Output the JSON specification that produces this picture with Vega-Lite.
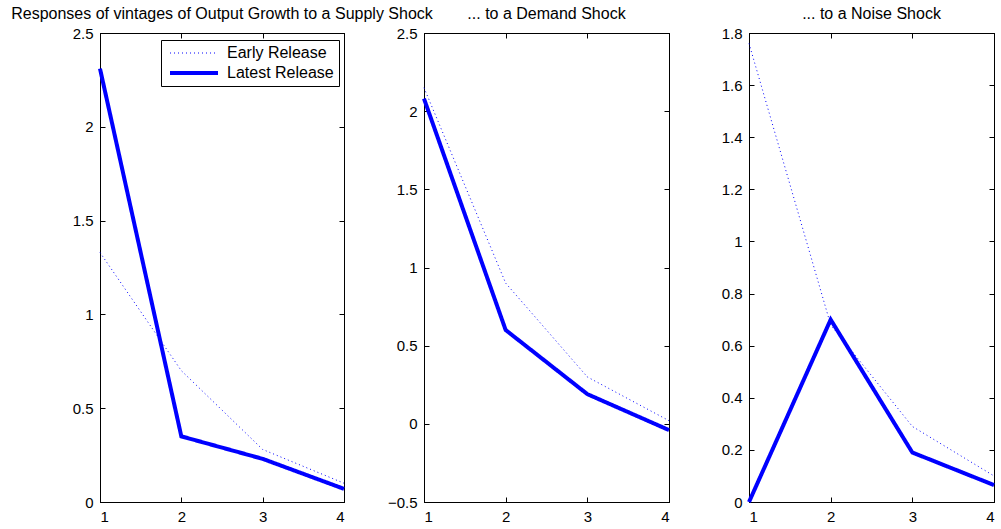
{
  "$schema": "https://vega.github.io/schema/vega-lite/v6.json",
  "padding": {"left": 10, "top": 5, "right": 4, "bottom": 4},
  "background": "white",
  "datasets": {
    "d": [
      {"panel": "supply", "series": "Early Release", "x": 1, "value": 1.33},
      {"panel": "supply", "series": "Early Release", "x": 2, "value": 0.70},
      {"panel": "supply", "series": "Early Release", "x": 3, "value": 0.28},
      {"panel": "supply", "series": "Early Release", "x": 4, "value": 0.10},
      {"panel": "supply", "series": "Latest Release", "x": 1, "value": 2.31},
      {"panel": "supply", "series": "Latest Release", "x": 2, "value": 0.35},
      {"panel": "supply", "series": "Latest Release", "x": 3, "value": 0.23},
      {"panel": "supply", "series": "Latest Release", "x": 4, "value": 0.07},
      {"panel": "demand", "series": "Early Release", "x": 1, "value": 2.15},
      {"panel": "demand", "series": "Early Release", "x": 2, "value": 0.90},
      {"panel": "demand", "series": "Early Release", "x": 3, "value": 0.30},
      {"panel": "demand", "series": "Early Release", "x": 4, "value": 0.02},
      {"panel": "demand", "series": "Latest Release", "x": 1, "value": 2.08},
      {"panel": "demand", "series": "Latest Release", "x": 2, "value": 0.60},
      {"panel": "demand", "series": "Latest Release", "x": 3, "value": 0.19},
      {"panel": "demand", "series": "Latest Release", "x": 4, "value": -0.04},
      {"panel": "noise", "series": "Early Release", "x": 1, "value": 1.76},
      {"panel": "noise", "series": "Early Release", "x": 2, "value": 0.68},
      {"panel": "noise", "series": "Early Release", "x": 3, "value": 0.29},
      {"panel": "noise", "series": "Early Release", "x": 4, "value": 0.10},
      {"panel": "noise", "series": "Latest Release", "x": 1, "value": 0.0},
      {"panel": "noise", "series": "Latest Release", "x": 2, "value": 0.70},
      {"panel": "noise", "series": "Latest Release", "x": 3, "value": 0.19},
      {"panel": "noise", "series": "Latest Release", "x": 4, "value": 0.065}
    ]
  },
  "config": {
    "font": "Liberation Sans",
    "view": {"stroke": "black", "strokeWidth": 1},
    "axis": {
      "grid": false,
      "domainColor": "black",
      "tickColor": "black",
      "labelColor": "black",
      "labelFont": "Liberation Sans",
      "labelFontSize": 15,
      "tickSize": -5,
      "labelPadding": 12,
      "format": "~g",
      "title": null
    },
    "title": {"font": "Liberation Sans", "fontSize": 16, "fontWeight": "normal", "color": "black", "anchor": "middle", "offset": 4},
    "legend": {
      "orient": "none",
      "legendX": 61,
      "legendY": 7,
      "title": null,
      "strokeColor": "black",
      "fillColor": "white",
      "padding": 5,
      "symbolType": "M-4,0L4,0",
      "symbolSize": 144,
      "symbolOffset": 20,
      "symbolStrokeColor": "#0000ff",
      "labelFont": "Liberation Sans",
      "labelFontSize": 16,
      "labelColor": "black",
      "labelOffset": 25,
      "rowPadding": 4,
      "cornerRadius": 0
    }
  },
  "bounds": "flush",
  "spacing": 80,
  "resolve": {"legend": {"strokeDash": "independent", "strokeWidth": "independent"}},
  "hconcat": [
    {
      "width": 244, "height": 469,
      "title": {"text": "Responses of vintages of Output Growth to a Supply Shock"},
      "data": {"name": "d"},
      "transform": [{"filter": "datum.panel === 'supply'"}],
      "resolve": {"axis": {"x": "independent", "y": "independent"}},
      "layer": [
        {
          "mark": {"type": "line", "color": "#0000ff"},
          "encoding": {
            "x": {"field": "x", "type": "quantitative", "scale": {"domain": [1, 4], "nice": false}, "axis": {"values": [1, 2, 3, 4]}},
            "y": {"field": "value", "type": "quantitative", "scale": {"domain": [0, 2.5], "nice": false, "zero": false}, "axis": {"values": [0, 0.5, 1, 1.5, 2, 2.5]}},
            "strokeDash": {"field": "series", "type": "nominal", "scale": {"domain": ["Early Release", "Latest Release"], "range": [[1, 3], [1, 0]]}},
            "strokeWidth": {"field": "series", "type": "nominal", "scale": {"type": "ordinal", "domain": ["Early Release", "Latest Release"], "range": [1, 4]}}
          }
        },
        {
          "mark": {"type": "line", "opacity": 0},
          "encoding": {
            "x": {"field": "x", "type": "quantitative", "axis": {"orient": "top", "values": [1, 2, 3, 4], "labels": false}},
            "y": {"field": "value", "type": "quantitative", "axis": {"orient": "right", "values": [0, 0.5, 1, 1.5, 2, 2.5], "labels": false}}
          }
        }
      ]
    },
    {
      "width": 245, "height": 469,
      "title": {"text": "... to a Demand Shock"},
      "data": {"name": "d"},
      "transform": [{"filter": "datum.panel === 'demand'"}],
      "resolve": {"axis": {"x": "independent", "y": "independent"}},
      "layer": [
        {
          "mark": {"type": "line", "color": "#0000ff"},
          "encoding": {
            "x": {"field": "x", "type": "quantitative", "scale": {"domain": [1, 4], "nice": false}, "axis": {"values": [1, 2, 3, 4]}},
            "y": {"field": "value", "type": "quantitative", "scale": {"domain": [-0.5, 2.5], "nice": false, "zero": false}, "axis": {"values": [-0.5, 0, 0.5, 1, 1.5, 2, 2.5]}},
            "strokeDash": {"field": "series", "type": "nominal", "scale": {"domain": ["Early Release", "Latest Release"], "range": [[1, 3], [1, 0]]}, "legend": null},
            "strokeWidth": {"field": "series", "type": "nominal", "scale": {"type": "ordinal", "domain": ["Early Release", "Latest Release"], "range": [1, 4]}, "legend": null}
          }
        },
        {
          "mark": {"type": "line", "opacity": 0},
          "encoding": {
            "x": {"field": "x", "type": "quantitative", "axis": {"orient": "top", "values": [1, 2, 3, 4], "labels": false}},
            "y": {"field": "value", "type": "quantitative", "axis": {"orient": "right", "values": [-0.5, 0, 0.5, 1, 1.5, 2, 2.5], "labels": false}}
          }
        }
      ]
    },
    {
      "width": 245, "height": 469,
      "title": {"text": "... to a Noise Shock"},
      "data": {"name": "d"},
      "transform": [{"filter": "datum.panel === 'noise'"}],
      "resolve": {"axis": {"x": "independent", "y": "independent"}},
      "layer": [
        {
          "mark": {"type": "line", "color": "#0000ff"},
          "encoding": {
            "x": {"field": "x", "type": "quantitative", "scale": {"domain": [1, 4], "nice": false}, "axis": {"values": [1, 2, 3, 4]}},
            "y": {"field": "value", "type": "quantitative", "scale": {"domain": [0, 1.8], "nice": false, "zero": false}, "axis": {"values": [0, 0.2, 0.4, 0.6, 0.8, 1, 1.2, 1.4, 1.6, 1.8]}},
            "strokeDash": {"field": "series", "type": "nominal", "scale": {"domain": ["Early Release", "Latest Release"], "range": [[1, 3], [1, 0]]}, "legend": null},
            "strokeWidth": {"field": "series", "type": "nominal", "scale": {"type": "ordinal", "domain": ["Early Release", "Latest Release"], "range": [1, 4]}, "legend": null}
          }
        },
        {
          "mark": {"type": "line", "opacity": 0},
          "encoding": {
            "x": {"field": "x", "type": "quantitative", "axis": {"orient": "top", "values": [1, 2, 3, 4], "labels": false}},
            "y": {"field": "value", "type": "quantitative", "axis": {"orient": "right", "values": [0, 0.2, 0.4, 0.6, 0.8, 1, 1.2, 1.4, 1.6, 1.8], "labels": false}}
          }
        }
      ]
    }
  ]
}
